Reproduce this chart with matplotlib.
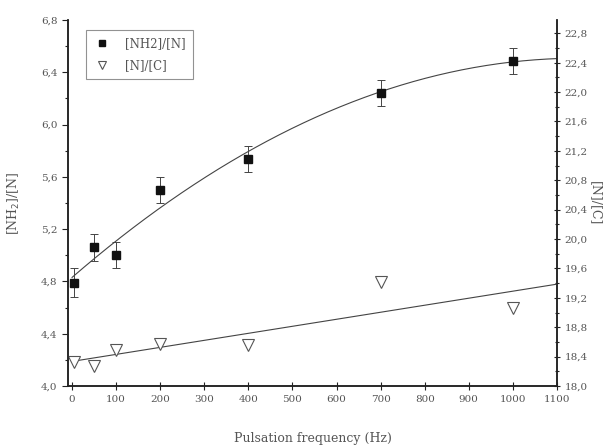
import numpy as np
import matplotlib
matplotlib.use('Agg')
import matplotlib.pyplot as plt
from matplotlib.ticker import MultipleLocator, FuncFormatter
from matplotlib.lines import Line2D

plt.rcParams['font.family'] = ['DejaVu Serif']

# data
freq = [5, 50, 100, 200, 400, 700, 1000]
nh2_n = [4.79, 5.06, 5.00, 5.50, 5.74, 6.24, 6.49]
nh2_err = [0.11, 0.10, 0.10, 0.10, 0.10, 0.10, 0.10]
n_c = [18.33, 18.27, 18.49, 18.57, 18.56, 19.41, 19.06]

txt = '#555555'
lcol = '#444444'

comma = FuncFormatter(lambda v, p: ('%.1f' % v).replace('.', ','))

fig = plt.figure(figsize=(6.08, 4.46), dpi=100)
ax = fig.add_axes([0.112, 0.1345, 0.804, 0.8205])
ax2 = ax.twinx()

# fits
xf = np.linspace(0, 1100, 200)
p2 = np.polyfit(freq, nh2_n, 2)
p1 = np.polyfit(freq, n_c, 1)
ax.plot(xf, np.polyval(p2, xf), color=lcol, lw=0.8)
ax2.plot(xf, np.polyval(p1, xf), color=lcol, lw=0.8)

ax.errorbar(freq, nh2_n, yerr=nh2_err, fmt='s', color='#111111', ms=5.5,
            ecolor=lcol, elinewidth=0.7, capsize=3, capthick=0.7)
ax2.plot(freq, n_c, 'v', mfc='white', mec='#555555', mew=0.8, ms=8, ls='none')

ax.set_xlim(-9, 1100)
ax.set_ylim(4.0, 6.8)
ax2.set_ylim(18.0, 22.98)

ax.xaxis.set_major_locator(MultipleLocator(100))
ax.yaxis.set_major_locator(MultipleLocator(0.4))
ax.yaxis.set_minor_locator(MultipleLocator(0.2))
ax2.yaxis.set_major_locator(MultipleLocator(0.4))
ax2.yaxis.set_minor_locator(MultipleLocator(0.2))
ax.yaxis.set_major_formatter(comma)
ax2.yaxis.set_major_formatter(comma)

for a in (ax, ax2):
    a.spines['top'].set_visible(False)
    for s in a.spines.values():
        s.set_color('#222222')
        s.set_linewidth(1.1)
    a.tick_params(which='both', colors='#222222', labelcolor=txt, labelsize=7.5)
    a.tick_params(which='major', length=4, width=0.8)
    a.tick_params(which='minor', length=2.5, width=0.8)
ax.tick_params(axis='x', direction='inout', length=6)
ax2.tick_params(axis='y', which='both', direction='inout')

ax.set_xlabel('Pulsation frequency (Hz)', color=txt, fontsize=9, labelpad=20)
ax.set_ylabel('[NH$_2$]/[N]', color=txt, fontsize=9, labelpad=14)
ax2.set_ylabel('[N]/[C]', color=txt, fontsize=9, rotation=270, labelpad=10)

# legend proxies
lh1 = Line2D([], [], marker='s', ls='none', color='#111111', ms=5)
lh2 = Line2D([], [], marker='v', ls='none', mfc='white', mec='#555555', mew=0.8, ms=6)
leg = ax.legend([lh1, lh2], ['[NH2]/[N]', '[N]/[C]'], loc='upper left',
                bbox_to_anchor=(0.025, 0.99), fontsize=8.5, frameon=True,
                fancybox=False, edgecolor='#777777', handlelength=1.5,
                handletextpad=1.2, labelspacing=0.8, borderpad=0.6)
leg.get_frame().set_linewidth(0.8)
for t in leg.get_texts():
    t.set_color(txt)

fig.savefig('out.png', dpi=100)
